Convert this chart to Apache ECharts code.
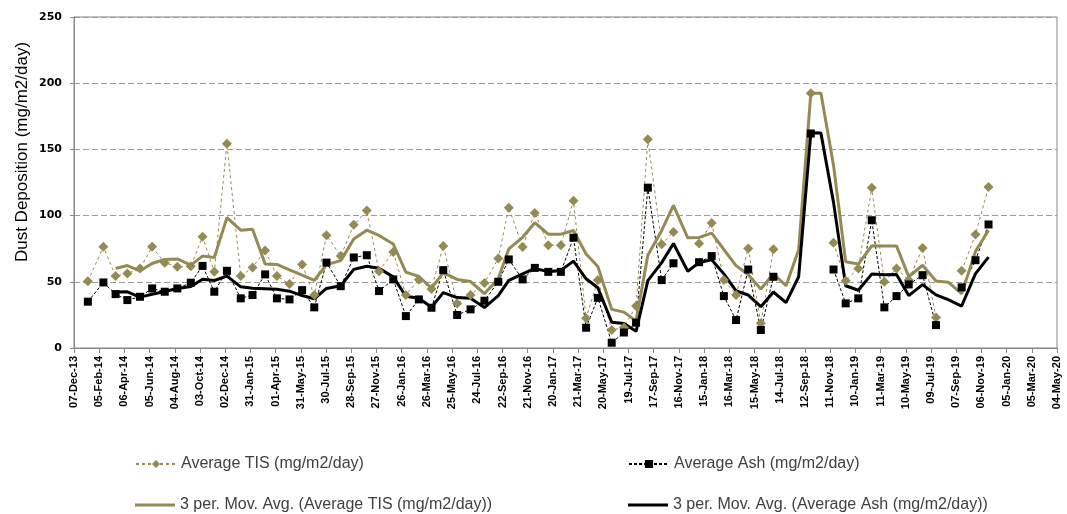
<!DOCTYPE html>
<html>
<head>
<meta charset="utf-8">
<script src="https://cdn.jsdelivr.net/npm/echarts@6/dist/echarts.min.js"></script>
<style>
  html, body { margin: 0; padding: 0; background: #fff; }
  #chart { width: 1067px; height: 514px; }
</style>
</head>
<body>
<div id="chart"></div>
<script>
// sample dates (one per month, roughly)
const sampleDates = [
  '2014-01-09','2014-02-15','2014-03-16','2014-04-13','2014-05-13','2014-06-11','2014-07-11','2014-08-10','2014-09-11','2014-10-09','2014-11-06','2014-12-06',
  '2015-01-08','2015-02-05','2015-03-07','2015-04-04','2015-05-04','2015-06-03','2015-07-02','2015-07-31','2015-09-03','2015-10-04','2015-11-04','2015-12-03',
  '2016-01-06','2016-02-05','2016-03-07','2016-04-06','2016-05-04','2016-06-06','2016-07-08','2016-08-10','2016-09-12','2016-10-07','2016-11-09','2016-12-08',
  '2017-01-09','2017-02-08','2017-03-10','2017-04-09','2017-05-07','2017-06-09','2017-07-08','2017-08-06','2017-09-03','2017-10-06','2017-11-03','2017-12-07',
  '2018-01-03','2018-02-02','2018-03-03','2018-04-01','2018-04-30','2018-05-30','2018-06-29','2018-07-29','2018-08-28','2018-09-26','2018-10-20','2018-11-19',
  '2018-12-18','2019-01-17','2019-02-18','2019-03-20','2019-04-18','2019-05-17','2019-06-19','2019-07-21','2019-08-19','2019-09-20','2019-10-23','2019-11-23'
];

// Average TIS (mg/m2/day), null = no sample
const tisValues = [
  50.5, 76.4, 54.3, 56.3, 60, 76.4, 64.3, 61.3, 61.8, 84, 57.5, 154.3,
  54.3, 60.8, 73.6, 54.3, 48.3, 63.1, 40, 85.2, 69.4, 93, 103.8, 58,
  72.6, 40, 51.5, 44.6, 77.1, 33.7, 40, 49, 67.6, 106, 76.2, 102,
  77.7, 77.7, 111.3, 22.4, 51.3, 13.6, 15.5, 31.8, 157.6, 78.3, 87.7, null,
  79, 94.5, 51.3, 40, 75.2, 18.6, 74.6, null, null, 192.5, null, 79.4,
  50.8, 60.1, 121.1, 50, 60.1, 51.3, 75.6, 23.1, null, 58.3, 85.7, 121.6
];

// Average Ash (mg/m2/day)
const ashValues = [
  35, 49.5, 40.7, 36.2, 38.7, 45, 42.5, 45, 49.3, 62, 42.5, 58.3,
  37.5, 40, 55.6, 37.5, 36.7, 43.7, 30.7, 64.5, 46.7, 68.4, 70.1, 43,
  51.8, 24.1, 36.7, 30.4, 58.8, 24.9, 29.2, 35.7, 50, 66.9, 51.8, 60.5,
  57.5, 57.5, 83.3, 15.3, 37.9, 4, 11.7, 19.1, 121.1, 51.3, 64, null,
  64.8, 69.4, 39.2, 21.1, 59.3, 13.6, 53.8, null, null, 162, null, 59.3,
  33.7, 37.5, 96.5, 30.7, 39.2, 48, 55, 17.3, null, 45.8, 66.3, 93.3
];

// 3 per. moving average lines
const tisMovAvg = [
  null, null, 60.1, 62.3, 58.3, 63.8, 66.9, 67.3, 62.6, 69.4, 68.4, 98.5,
  89, 89.7, 63.5, 63.1, 59, 55, 51, 63, 66, 82.3, 89, 85,
  78.5, 57.3, 54, 45.2, 57, 51.8, 50.2, 41, 52.4, 74.8, 83.6, 94.6,
  86, 86, 88.7, 71, 61.5, 29.2, 27.1, 20.5, 70, 88.8, 107.8, 83.2,
  83.5, 86.8, 74.4, 62.2, 55.3, 44.6, 56, 47, 74.2, 192.5, 192.5, 138,
  65.1, 63.4, 77.2, 77.1, 77.1, 53.8, 62.5, 50.6, 49.7, 41, 73, 89
];
const ashMovAvg = [
  null, null, 42.3, 42.4, 38.4, 40.6, 42.7, 45, 46.4, 52, 51, 54.3,
  46.2, 45.1, 44.7, 44.3, 42.9, 39.6, 37.2, 45, 47, 59.4, 61.8, 60.3,
  53.7, 39.1, 37.5, 30.8, 41.8, 38.1, 37.5, 30.5, 39.5, 51.1, 56, 60.1,
  57.7, 58.6, 65.6, 52.3, 45.5, 19.5, 18.5, 12.6, 50.9, 64.5, 78.9, 58,
  64.5, 66.7, 56, 43.2, 40, 31.2, 42.3, 34.3, 53.8, 162.5, 162.3, 110,
  47, 43.6, 55.8, 55.4, 55.5, 39.6, 47.9, 40.1, 36.5, 31.7, 56.2, 68.6
];

// x axis tick labels, every 60 days
const tickLabels = [
  '07-Dec-13','05-Feb-14','06-Apr-14','05-Jun-14','04-Aug-14','03-Oct-14','02-Dec-14','31-Jan-15',
  '01-Apr-15','31-May-15','30-Jul-15','28-Sep-15','27-Nov-15','26-Jan-16','26-Mar-16','25-May-16',
  '24-Jul-16','22-Sep-16','21-Nov-16','20-Jan-17','21-Mar-17','20-May-17','19-Jul-17','17-Sep-17',
  '16-Nov-17','15-Jan-18','16-Mar-18','15-May-18','14-Jul-18','12-Sep-18','11-Nov-18','10-Jan-19',
  '11-Mar-19','10-May-19','09-Jul-19','07-Sep-19','06-Nov-19','05-Jan-20','05-Mar-20','04-May-20'
];

const axisStart = Date.UTC(2013, 11, 7);
const tickStep = 60;

function dayOf(s) {
  const p = s.split('-').map(Number);
  return (Date.UTC(p[0], p[1] - 1, p[2]) - axisStart) / 86400000;
}
function pairs(values) {
  return sampleDates.map((d, i) => [dayOf(d), values[i] == null ? '-' : values[i]]);
}

const gold = '#948A54';
const names = [
  'Average TIS (mg/m2/day)',
  'Average Ash (mg/m2/day)',
  '3 per. Mov. Avg. (Average TIS (mg/m2/day))',
  '3 per. Mov. Avg. (Average Ash (mg/m2/day))'
];

const chart = echarts.init(document.getElementById('chart'));

// one legend per item so they sit in a 2 x 2 block like the original
function legendAt(name, left, top, solid) {
  return {
    data: [solid ? { name: name, icon: 'rect' } : name],
    left: left,
    top: top,
    padding: 0,
    itemWidth: 40,
    itemHeight: solid ? 3 : 10,
    textStyle: { fontFamily: 'Liberation Sans', fontSize: 16, color: '#404040' }
  };
}

const option = {
  animation: false,
  grid: {
    left: 74, right: 10, top: 17, bottom: 166,
    show: true, borderColor: '#868686', borderWidth: 1
  },
  legend: [
    legendAt(names[0], 135, 456, false),
    legendAt(names[1], 628, 456, false),
    legendAt(names[2], 135, 497, true),
    legendAt(names[3], 628, 497, true)
  ],
  graphic: [{
    type: 'text',
    x: 22, y: 152,
    rotation: Math.PI / 2,
    style: {
      text: 'Dust Deposition (mg/m2/day)',
      font: '17px "Liberation Sans"',
      fill: '#000',
      align: 'center',
      verticalAlign: 'middle'
    }
  }],
  xAxis: {
    type: 'value',
    min: 0,
    max: tickStep * (tickLabels.length - 1),
    interval: tickStep,
    axisLine: { lineStyle: { color: '#868686' } },
    axisTick: { show: true, length: 5, lineStyle: { color: '#868686' } },
    splitLine: { show: false },
    axisLabel: {
      rotate: 90,
      margin: 8,
      fontFamily: 'Liberation Sans',
      fontWeight: 'bold',
      fontSize: 11,
      color: '#000',
      showMinLabel: true,
      showMaxLabel: true,
      formatter: v => tickLabels[Math.round(v / tickStep)]
    }
  },
  yAxis: {
    type: 'value',
    min: 0,
    max: 250,
    interval: 50,
    axisLine: { show: true, lineStyle: { color: '#868686' } },
    axisTick: { show: true, length: 4, lineStyle: { color: '#868686' } },
    splitLine: { lineStyle: { color: '#9a9a9a', type: [6, 3] } },
    axisLabel: {
      margin: 12,
      fontFamily: 'DejaVu Sans',
      fontWeight: 'bold',
      fontSize: 11,
      color: '#000'
    }
  },
  series: [
    {
      name: names[0],
      type: 'line',
      data: pairs(tisValues),
      symbol: 'diamond',
      symbolSize: 10,
      itemStyle: { color: gold },
      lineStyle: { color: gold, width: 1, type: [3, 3] }
    },
    {
      name: names[1],
      type: 'line',
      data: pairs(ashValues),
      symbol: 'rect',
      symbolSize: 8,
      itemStyle: { color: '#000' },
      lineStyle: { color: '#000', width: 1, type: [3, 2] }
    },
    {
      name: names[2],
      type: 'line',
      data: pairs(tisMovAvg),
      symbol: 'none',
      itemStyle: { color: gold },
      lineStyle: { color: gold, width: 3 }
    },
    {
      name: names[3],
      type: 'line',
      data: pairs(ashMovAvg),
      symbol: 'none',
      itemStyle: { color: '#000' },
      lineStyle: { color: '#000', width: 3 }
    }
  ]
};

chart.setOption(option);
window.addEventListener('resize', () => {
  chart.resize();
});
</script>
</body>
</html>
